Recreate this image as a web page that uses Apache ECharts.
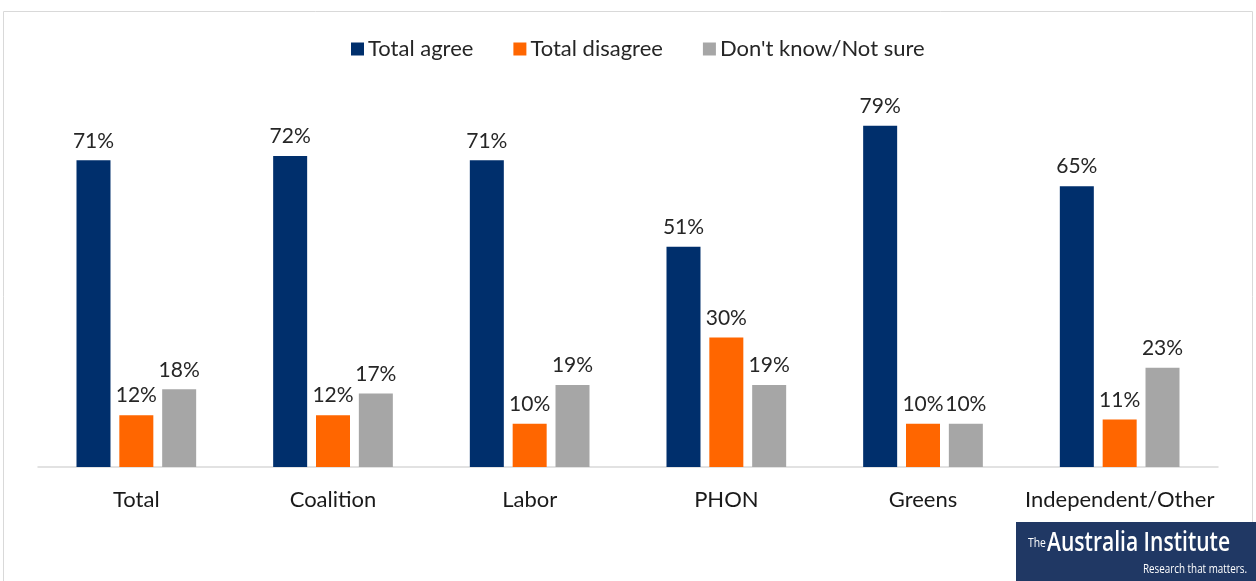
<!DOCTYPE html>
<html><head><meta charset="utf-8">
<script src="https://cdn.jsdelivr.net/npm/echarts@6/dist/echarts.min.js"></script>
<style>html,body{margin:0;padding:0;background:#fff}#c{width:1256px;height:581px}</style>
</head><body><div id="c"></div>
<script>
const categories = ['Total','Coalition','Labor','PHON','Greens','Independent/Other'];
const seriesNames = ['Total agree','Total disagree',"Don't know/Not sure"];
const totalAgree = [71,72,71,51,79,65];
const totalDisagree = [12,12,10,30,10,11];
const dontKnow = [18,17,19,19,10,23];
const colors = ['#002F6C','#FF6600','#A6A6A6'];
const FONT = 'Lato, "Open Sans", sans-serif';
const LOGOFONT = '"Open Sans", sans-serif';

const chart = echarts.init(document.getElementById('c'));
const label = {show:true, position:'top', distance:9, formatter:'{c}%', color:'#262626', fontSize:21, fontFamily:FONT};
chart.setOption({
  animation:false,
  textStyle:{fontFamily:FONT},
  legend:{top:33, left:346, itemWidth:13, itemHeight:13, itemGap:40, icon:'rect',
    textStyle:{fontSize:22, color:'#262626', fontFamily:FONT, padding:[0,0,0,-1]}},
  grid:{left:38, right:38, top:35, bottom:114},
  xAxis:{type:'category', data:categories,
    axisLine:{lineStyle:{color:'#D9D9D9', width:1.5}}, axisTick:{show:false},
    axisLabel:{fontSize:22, color:'#1a1a1a', margin:22, interval:0, fontFamily:FONT}},
  yAxis:{type:'value', min:0, max:100, show:false, splitLine:{show:false}},
  series:[
    {name:seriesNames[0], type:'bar', data:totalAgree, itemStyle:{color:colors[0]}, barWidth:34, barGap:'26%', barCategoryGap:'39%', label},
    {name:seriesNames[1], type:'bar', data:totalDisagree, itemStyle:{color:colors[1]}, barWidth:34, barGap:'26%', label},
    {name:seriesNames[2], type:'bar', data:dontKnow, itemStyle:{color:colors[2]}, barWidth:34, barGap:'26%', label}
  ],
  graphic:[
    {type:'rect', shape:{x:3.5,y:11.5,width:1249,height:600}, style:{fill:'none', stroke:'#D9D9D9', lineWidth:1}},
    {type:'rect', shape:{x:1016,y:522,width:240,height:59}, style:{fill:'#203864'}},
    {type:'text', x:1028, y:537, scaleX:0.8, style:{text:'The', fill:'#fff', fontSize:13, fontFamily:LOGOFONT, textVerticalAlign:'top'}},
    {type:'text', x:1047, y:530, scaleX:0.78, style:{text:'Australia Institute', fill:'#fff', fontSize:27, fontWeight:600, fontFamily:LOGOFONT, letterSpacing:-0.8}},
    {type:'text', x:1143, y:564, scaleX:0.82, style:{text:'Research that matters.', fill:'#fff', fontSize:12, fontFamily:LOGOFONT}}
  ]
});
</script></body></html>
